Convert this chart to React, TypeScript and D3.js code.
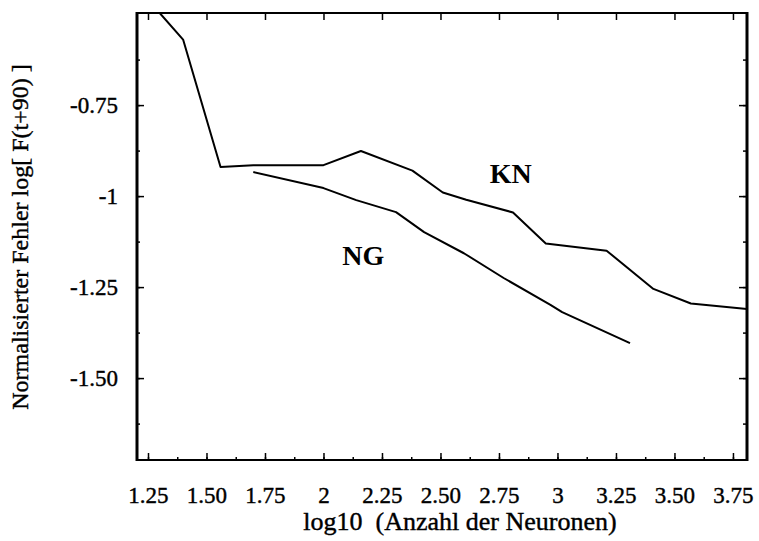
// Normalisierter Fehler vs. log10 Anzahl der Neuronen (KN / NG)
import React, { useEffect, useRef } from 'react';
import * as d3 from 'd3';

const xTicks = [1.25, 1.5, 1.75, 2, 2.25, 2.5, 2.75, 3, 3.25, 3.5, 3.75];
const xTickLabels = ['1.25', '1.50', '1.75', '2', '2.25', '2.50', '2.75', '3', '3.25', '3.50', '3.75'];
const yTicks = [-0.75, -1, -1.25, -1.5];
const yTickLabels = ['-0.75', '-1', '-1.25', '-1.50'];

// KN curve
const knX = [1.30, 1.40, 1.56, 1.70, 2.0, 2.16, 2.38, 2.51, 2.61, 2.81, 2.95, 3.21, 3.41, 3.57, 3.81];
const knY = [-0.497, -0.57, -0.92, -0.915, -0.915, -0.876, -0.93, -0.99, -1.01, -1.045, -1.13, -1.15, -1.255, -1.295, -1.31];

// NG curve
const ngX = [1.70, 2.0, 2.14, 2.31, 2.43, 2.60, 2.77, 2.97, 3.02, 3.31];
const ngY = [-0.934, -0.978, -1.011, -1.044, -1.099, -1.157, -1.225, -1.299, -1.319, -1.404];

const W = 759;
const H = 541;
const left = 137, right = 747, top = 13, bottom = 460;
const font = "'Liberation Serif', 'Times New Roman', serif";

export default function App() {
  const svgRef = useRef<SVGSVGElement>(null);

  useEffect(() => {
    const svg = d3.select(svgRef.current);
    svg.selectAll('*').remove();

    const x = d3.scaleLinear().domain([1.203, 3.81]).range([left, right]);
    const y = d3.scaleLinear().domain([-1.725, -0.497]).range([bottom, top]);

    const minorX = d3.range(1.25, 3.8, 0.125);
    const minorY = d3.range(-1.625, -0.5, 0.125);

    // bottom axis
    const gb = svg.append('g').attr('transform', `translate(0,${bottom})`)
      .call(d3.axisBottom(x).tickValues(xTicks).tickFormat((d, i) => xTickLabels[i]).tickSize(-7));
    gb.selectAll('text').attr('y', 43).attr('dy', 0);
    svg.append('g').attr('transform', `translate(0,${bottom})`)
      .call(d3.axisBottom(x).tickValues(minorX).tickFormat(() => '').tickSize(-3));

    // top axis
    svg.append('g').attr('transform', `translate(0,${top})`)
      .call(d3.axisTop(x).tickValues(xTicks).tickFormat(() => '').tickSize(-7));

    // left axis
    const gl = svg.append('g').attr('transform', `translate(${left},0)`)
      .call(d3.axisLeft(y).tickValues(yTicks).tickFormat((d, i) => yTickLabels[i]).tickSize(-7));
    gl.selectAll('text').attr('x', -19);
    svg.append('g').attr('transform', `translate(${left},0)`)
      .call(d3.axisLeft(y).tickValues(minorY).tickFormat(() => '').tickSize(-3));

    // right axis
    svg.append('g').attr('transform', `translate(${right},0)`)
      .call(d3.axisRight(y).tickValues(yTicks).tickFormat(() => '').tickSize(-8));
    svg.append('g').attr('transform', `translate(${right},0)`)
      .call(d3.axisRight(y).tickValues(minorY).tickFormat(() => '').tickSize(-4));

    svg.selectAll('g').attr('font-family', null).attr('font-size', null);
    svg.selectAll('.domain').remove();
    svg.selectAll('.tick line').attr('stroke', '#000').attr('stroke-width', 1.5);
    svg.selectAll('.tick text')
      .style('font-family', font)
      .style('font-size', '23px')
      .attr('fill', '#000')
      .attr('stroke', '#000')
      .attr('stroke-width', 0.4);

    // frame
    svg.append('line').attr('x1', left).attr('x2', right).attr('y1', top).attr('y2', top)
      .attr('stroke', '#000').attr('stroke-width', 2);
    svg.append('line').attr('x1', left).attr('x2', right).attr('y1', bottom).attr('y2', bottom)
      .attr('stroke', '#000').attr('stroke-width', 2);
    svg.append('line').attr('x1', left).attr('x2', left).attr('y1', top - 1).attr('y2', bottom + 1)
      .attr('stroke', '#000').attr('stroke-width', 3);
    svg.append('line').attr('x1', right).attr('x2', right).attr('y1', top - 1).attr('y2', bottom + 1)
      .attr('stroke', '#000').attr('stroke-width', 3);

    svg.append('clipPath').attr('id', 'plot-clip')
      .append('rect').attr('x', left).attr('y', top).attr('width', right - left).attr('height', bottom - top);

    const line = d3.line<[number, number]>().x(d => x(d[0])).y(d => y(d[1]));
    const series = [
      knX.map((v, i) => [v, knY[i]] as [number, number]),
      ngX.map((v, i) => [v, ngY[i]] as [number, number]),
    ];
    svg.append('g').attr('clip-path', 'url(#plot-clip)')
      .selectAll('path').data(series).enter().append('path')
      .attr('d', d => line(d))
      .attr('fill', 'none')
      .attr('stroke', '#000')
      .attr('stroke-width', 2)
      .attr('stroke-linejoin', 'round');

    // series labels
    svg.append('text').attr('x', x(2.80)).attr('y', y(-0.964))
      .attr('text-anchor', 'middle').style('font-family', font).style('font-weight', 'bold')
      .style('font-size', '28px').text('KN');
    svg.append('text').attr('x', x(2.17)).attr('y', y(-1.19))
      .attr('text-anchor', 'middle').style('font-family', font).style('font-weight', 'bold')
      .style('font-size', '28px').text('NG');

    // axis titles
    svg.append('text').attr('x', 460).attr('y', 530)
      .attr('text-anchor', 'middle').style('font-family', font).style('font-size', '26px')
      .attr('stroke', '#000').attr('stroke-width', 0.4)
      .text('log10\u00a0 (Anzahl der Neuronen)');
    svg.append('text').attr('transform', 'translate(28,237) rotate(-90)')
      .attr('text-anchor', 'middle').style('font-family', font).style('font-size', '24px')
      .attr('stroke', '#000').attr('stroke-width', 0.4)
      .text('Normalisierter Fehler log[ F(t+90) ]');
  }, []);

  return (
    <div style={{ position: 'absolute', left: 0, top: 0 }}>
      <svg ref={svgRef} width={W} height={H} style={{ display: 'block', background: '#fff' }}></svg>
    </div>
  );
}
